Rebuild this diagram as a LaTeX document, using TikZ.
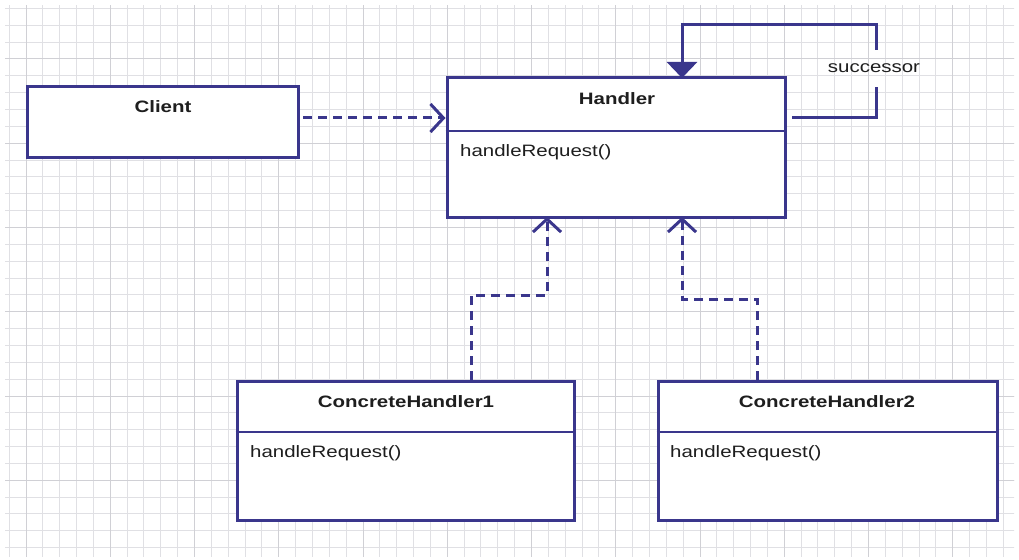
\documentclass[tikz,border=0pt]{standalone}
\usepackage{fontspec}
\setmainfont{Liberation Sans}[FakeStretch=1.24]
\usetikzlibrary{arrows.meta}
\definecolor{umlblue}{RGB}{58,54,140}
\definecolor{txt}{RGB}{30,30,30}
\definecolor{gridminor}{RGB}{224,224,228}
\definecolor{gridmajor}{RGB}{208,208,213}
\tikzset{
  umlbox/.style={draw=umlblue, line width=3pt, fill=white, rectangle, inner sep=0pt},
  divline/.style={draw=umlblue, line width=2.6pt},
  title/.style={font=\fontsize{16.5}{19}\selectfont\bfseries, text=txt, inner sep=0pt},
  oper/.style={font=\fontsize{16.5}{19}\selectfont, text=txt, inner sep=0pt, anchor=west},
  dep/.style={draw=umlblue, line width=3pt, dash pattern=on 9pt off 6pt, -{Straight Barb[length=13pt,width=28pt,line width=3pt]}},
  assoc/.style={draw=umlblue, line width=3pt},
  gline/.style={line width=1pt},
}
\begin{document}
\begin{tikzpicture}[x=1pt,y=-1pt]
\useasboundingbox (0,0) rectangle (1019,559);
\fill[white] (0,0) rectangle (1019,559);
% grid
\begin{scope}
\clip (5,6) rectangle (1014,556);
\foreach \k in {-1,...,59} {
  \pgfmathsetmacro{\xx}{26+16.85*\k}
  \draw[gridminor, gline] (\xx,0) -- (\xx,559);
}
\foreach \k in {-1,...,33} {
  \pgfmathsetmacro{\yy}{8.45+16.85*\k}
  \draw[gridminor, gline] (0,\yy) -- (1019,\yy);
}
\foreach \k in {-1,...,12} {
  \pgfmathsetmacro{\xx}{26+84.25*\k}
  \draw[gridmajor, gline] (\xx,0) -- (\xx,559);
}
\foreach \k in {-1,...,7} {
  \pgfmathsetmacro{\yy}{396-84.25*\k}
  \draw[gridmajor, gline] (0,\yy) -- (1019,\yy);
}
\end{scope}

% boxes
\node[umlbox, minimum width=271pt, minimum height=70pt] (client) at (162.5,122) {};
\node[title] (clientT) at (163,107) {Client};

\node[umlbox, minimum width=338pt, minimum height=139pt] (handler) at (616,147.5) {};
\draw[divline] (handler.west |- 0,131) -- (handler.east |- 0,131);
\node[title] (handlerT) at (617,99) {Handler};
\node[oper] (handlerO) at (460,152) {handleRequest()};

\node[umlbox, minimum width=337pt, minimum height=139pt] (ch1) at (405.5,450.5) {};
\draw[divline] (ch1.west |- 0,432) -- (ch1.east |- 0,432);
\node[title] (ch1T) at (406,402) {ConcreteHandler1};
\node[oper] (ch1O) at (250,453) {handleRequest()};

\node[umlbox, minimum width=339pt, minimum height=139pt] (ch2) at (827.5,450.5) {};
\draw[divline] (ch2.west |- 0,432) -- (ch2.east |- 0,432);
\node[title] (ch2T) at (827,402) {ConcreteHandler2};
\node[oper] (ch2O) at (670,453) {handleRequest()};

% connectors
\coordinate (cl) at (303,118);
\draw[dep] (cl) -- (handler.west |- cl);

\coordinate (c1) at (471,380);
\coordinate (h1) at (547,217);
\draw[dep] (c1) |- (547,295) -- (h1);

\coordinate (c2) at (757,380);
\coordinate (h2) at (682,217);
\draw[dep] (c2) |- (682,299) -- (h2);

% successor self-association
\node[font=\fontsize{16.5}{19}\selectfont, text=txt, inner sep=0pt] (succ) at (874,68) {successor};
\coordinate (s0) at (792,118);
\draw[assoc] (s0) -| (876,87);
\coordinate (ht) at (682,78);
\draw[assoc, -{Triangle[length=16pt,width=30pt]}] (876,50) |- (682,25) -- (ht);
\end{tikzpicture}
\end{document}
